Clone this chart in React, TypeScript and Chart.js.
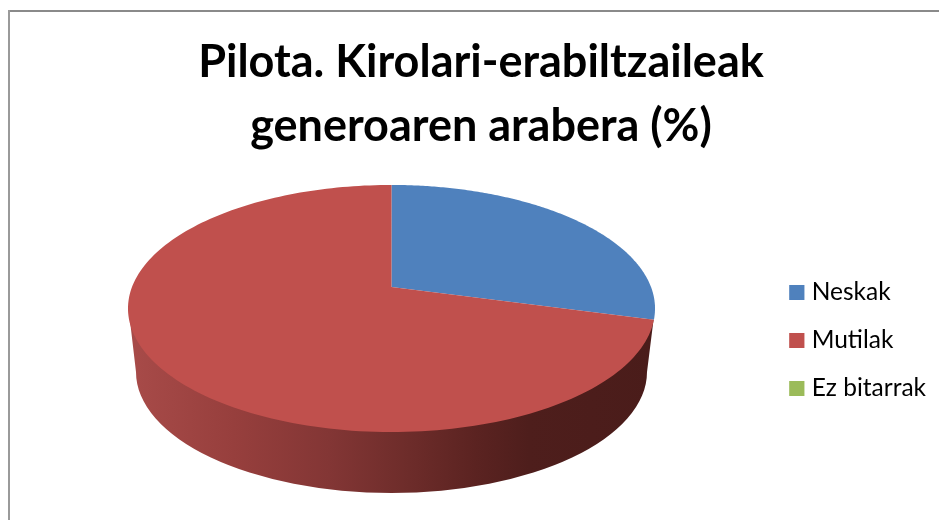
import React, { useEffect, useRef } from "react";
import { Chart, registerables } from "chart.js";

Chart.register(...registerables);

const categories = ["Neskak", "Mutilak", "Ez bitarrak"];
const shares = [29.2, 70.8, 0];
const sliceColors = ["#4f81bd", "#c0504d", "#9bbb59"];
const titleLines = ["Pilota. Kirolari-erabiltzaileak", "generoaren arabera (%)"];

const FONT = "Lato, 'Open Sans', sans-serif";

const CX = 391.5;
const APEX_Y = 287;
const A = 259.5;
const B = 119.8;
const K = 0.174;

function project(angle: number) {
  const X = Math.cos(angle);
  const Y = Math.sin(angle);
  const w = 1 - K * Y;
  return { x: CX + (A * X) / w, y: APEX_Y + (B * Y) / w };
}

const pie3d = {
  id: "pie3d",
  beforeDatasetDraw(chart: any) {
    const ctx = chart.ctx;
    const meta = chart.getDatasetMeta(0);
    ctx.save();

    // side wall
    const grad = ctx.createLinearGradient(128, 0, 655, 0);
    grad.addColorStop(0, "#a84b49");
    grad.addColorStop(0.2, "#973f3d");
    grad.addColorStop(0.38, "#833635");
    grad.addColorStop(0.52, "#6f2d2b");
    grad.addColorStop(0.66, "#5b2321");
    grad.addColorStop(0.76, "#4e1e1c");
    grad.addColorStop(1, "#4a1c1a");
    ctx.beginPath();
    ctx.moveTo(128.5, 308);
    ctx.lineTo(136, 372);
    ctx.ellipse(391.5, 372, 255.5, 121, 0, Math.PI, 0, true);
    ctx.lineTo(653.5, 320);
    ctx.lineTo(391.5, 308);
    ctx.closePath();
    ctx.fillStyle = grad;
    ctx.fill();

    // top face
    meta.data.forEach((arc: any, i: number) => {
      const span = arc.endAngle - arc.startAngle;
      if (span <= 0) return;
      ctx.beginPath();
      ctx.moveTo(CX, APEX_Y);
      const steps = 180;
      for (let s = 0; s <= steps; s++) {
        const p = project(arc.startAngle + (span * s) / steps);
        ctx.lineTo(p.x, p.y);
      }
      ctx.closePath();
      ctx.fillStyle = sliceColors[i];
      ctx.fill();
    });
    ctx.restore();
    return false;
  },
};

const frame = {
  id: "frame",
  beforeDraw(chart: any) {
    const ctx = chart.ctx;
    ctx.save();
    ctx.fillStyle = "#8a8a8a";
    ctx.fillRect(8, 10, 931, 2);
    ctx.fillStyle = "#9a9a9a";
    ctx.fillRect(8, 10, 2, 510);
    ctx.restore();
  },
};

// Legend keys sit closer to their text than Chart.js spaces them: it lays out a
// narrow key, and the full-width square is painted over it here.
const legendKeys = {
  id: "legendKeys",
  afterDraw(chart: any) {
    const ctx = chart.ctx;
    const legend = chart.legend;
    ctx.save();
    legend.legendItems.forEach((item: any, i: number) => {
      const box = legend.legendHitBoxes[i];
      ctx.fillStyle = item.fillStyle;
      ctx.fillRect(box.left, box.top + (box.height - 15) / 2, 15, 15);
    });
    ctx.restore();
  },
};

export default function App() {
  const ref = useRef<HTMLCanvasElement>(null);
  useEffect(() => {
    const chart = new Chart(ref.current!, {
      type: "pie",
      data: {
        labels: categories,
        datasets: [{ data: shares, backgroundColor: sliceColors, borderWidth: 0 }],
      },
      options: {
        animation: false,
        responsive: false,
        layout: { padding: { left: 26, right: 3, top: 0, bottom: 0 } },
        plugins: {
          title: {
            display: true,
            text: titleLines,
            color: "#000000",
            font: { family: FONT, size: 45, weight: "bold", lineHeight: 1.422 },
            padding: { top: 30, bottom: 3 },
          },
          legend: {
            position: "right",
            fullSize: false,
            labels: {
              color: "#000000",
              font: { family: FONT, size: 24.5 },
              boxWidth: 10,
              boxHeight: 15,
              padding: 23.5,
            },
          },
          tooltip: { enabled: false },
        },
      },
      plugins: [frame, pie3d, legendKeys],
    } as any);
    return () => chart.destroy();
  }, []);
  return (
    <canvas
      ref={ref}
      width={939}
      height={520}
      style={{ position: "fixed", left: 0, top: 0, display: "block", background: "#ffffff" }}
    />
  );
}
